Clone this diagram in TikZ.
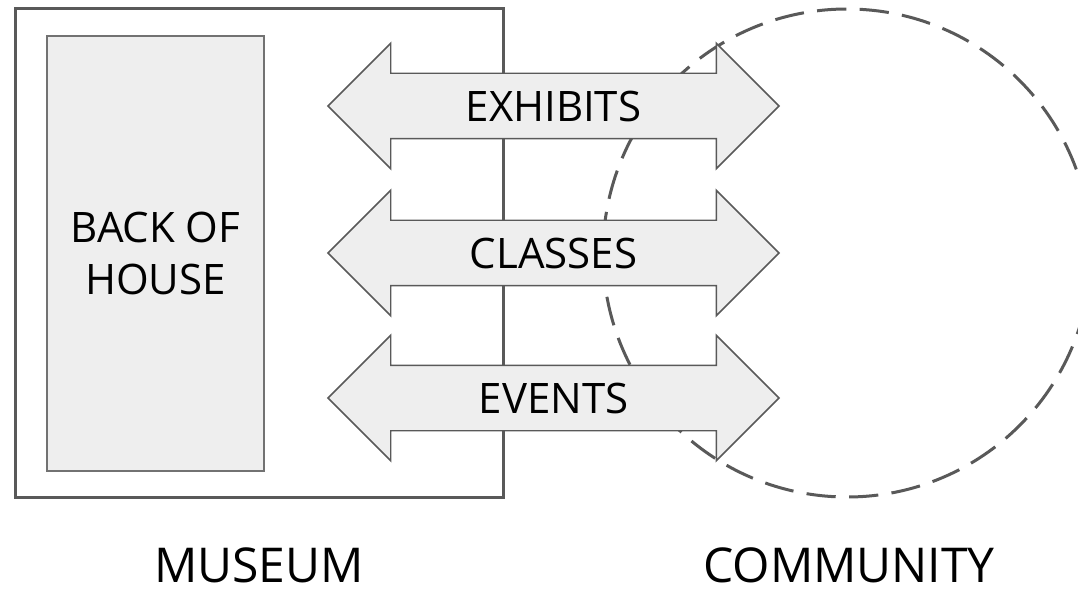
\documentclass[tikz,border=0pt]{standalone}
\usepackage{fontspec}
\setsansfont{Open Sans}
\usepackage{tikz}
\definecolor{edge}{HTML}{595959}
\definecolor{panel}{HTML}{EEEEEE}
\usetikzlibrary{shapes.arrows, positioning}

\begin{document}
\begin{tikzpicture}[x=0.75pt, y=-0.75pt,
  every node/.style={font=\sffamily},
  wall/.style={rectangle, draw=edge, line width=2.25pt, minimum width=366pt,
               minimum height=366pt, inner sep=0pt},
  public/.style={circle, draw=edge, line width=2.25pt, dash pattern=on 22pt off 10pt,
                 minimum size=366pt, inner sep=0pt},
  backroom/.style={rectangle, draw=edge!85, fill=panel, line width=1.1pt,
                   minimum width=162.75pt, minimum height=326.25pt, align=center,
                   font=\sffamily\fontsize{31.5}{39}\selectfont},
  channel/.style={double arrow, draw=edge, fill=panel, line width=1.1pt,
                  double arrow head extend=22.5pt, minimum height=338.25pt,
                  minimum width=93pt, text height=23pt, text depth=0pt,
                  inner xsep=0pt, inner ysep=12.5pt,
                  font=\sffamily\fontsize{31.5}{38}\selectfont},
  caption/.style={anchor=base, inner sep=0pt, font=\sffamily\fontsize{36}{43}\selectfont}
]
  \useasboundingbox (0,0) rectangle (1078,595);
  \clip (0,0) rectangle (1078,595);

  \node[wall] (museum) at (259,253) {};
  \node[public] (community) at (847,253) {};
  \node[backroom] (backhouse) at (155.5,253.5) {BACK OF\\HOUSE};

  \node[channel] (exhibits) at (553.5,106) {EXHIBITS};
  \node[channel] (classes) at (553.5,253) {CLASSES};
  \node[channel] (events) at (553.5,398) {EVENTS};

  \node[caption] (lblmuseum) at (259,582) {MUSEUM};
  \node[caption] (lblcommunity) at (849,582) {COMMUNITY};
\end{tikzpicture}
\end{document}
